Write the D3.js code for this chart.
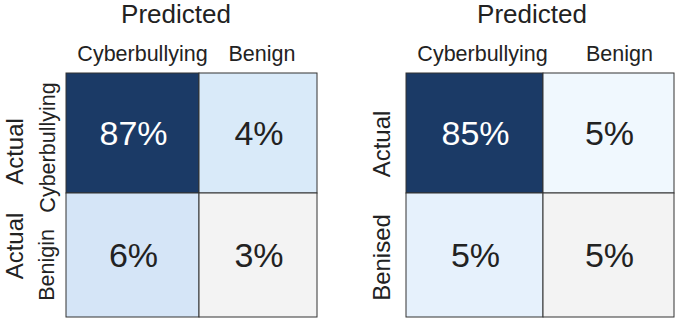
<!DOCTYPE html>
<html>
<head>
<meta charset="utf-8">
<script src="https://cdn.jsdelivr.net/npm/d3@7"></script>
<style>
  body { margin: 0; background: #fff; }
  svg { display: block; font-family: Arial, "Liberation Sans", sans-serif; }
</style>
</head>
<body>
<div id="chart"></div>
<script>
// values (percent)
const colLabels = ['Cyberbullying', 'Benign']
const leftValues = [[87, 4], [6, 3]]
const rightValues = [[85, 5], [5, 5]]
const leftRowLabels = ['Cyberbullying', 'Benigin']
const rightRowLabels = ['Actual', 'Benised']
const titleText = 'Predicted'

const W = 679, H = 322
const svg = d3.select('#chart').append('svg').attr('width', W).attr('height', H)

// cell fills, per panel
const fills = {
  left: ['#1b3a66', '#d9eaf9', '#d5e5f7', '#f3f3f3'],
  right: ['#1b3a66', '#f0f8fe', '#e6f1fc', '#f3f3f3']
}

function drawPanel(opt) {
  const g = svg.append('g')
  const x = d3.scaleLinear().domain([0, 1, 2]).range(opt.xs)
  const y = d3.scaleLinear().domain([0, 1, 2]).range(opt.ys)
  const cells = opt.values.flatMap((row, r) => row.map((v, c) => ({ r, c, v })))

  g.selectAll('rect.cell')
    .data(cells)
    .join('rect')
    .attr('class', 'cell')
    .attr('x', d => x(d.c))
    .attr('y', d => y(d.r))
    .attr('width', d => x(d.c + 1) - x(d.c))
    .attr('height', d => y(d.r + 1) - y(d.r))
    .attr('fill', (d, i) => opt.fills[i])
    .attr('stroke', '#333')
    .attr('stroke-width', 1)

  g.selectAll('text.val')
    .data(cells)
    .join('text')
    .attr('class', 'val')
    .attr('x', d => (x(d.c) + x(d.c + 1)) / 2 + 1)
    .attr('y', d => (y(d.r) + y(d.r + 1)) / 2)
    .attr('dy', '0.35em')
    .attr('text-anchor', 'middle')
    .attr('font-size', 34)
    .attr('fill', (d, i) => i === 0 ? '#fff' : '#222')
    .text(d => d.v + '%')

  g.append('text')
    .attr('x', opt.titleX)
    .attr('y', 23)
    .attr('text-anchor', 'middle')
    .attr('font-size', 26)
    .attr('fill', '#222')
    .text(titleText)

  g.selectAll('text.col')
    .data(colLabels)
    .join('text')
    .attr('class', 'col')
    .attr('x', (d, i) => (x(i) + x(i + 1)) / 2 + opt.colDx[i])
    .attr('y', 61)
    .attr('text-anchor', 'middle')
    .attr('font-size', 21.5)
    .attr('fill', '#222')
    .text(d => d)

  opt.rowTexts.forEach(t => {
    g.append('text')
      .attr('transform', `translate(${t.x},${t.y}) rotate(-90)`)
      .attr('text-anchor', 'middle')
      .attr('font-size', t.size)
      .attr('fill', '#222')
      .text(t.text)
  })
}

drawPanel({
  values: leftValues,
  fills: fills.left,
  xs: [66, 199, 317],
  ys: [73, 193, 317],
  titleX: 176,
  colDx: [10, 4],
  rowTexts: [
    { text: 'Actual', x: 23, y: 151.5, size: 24 },
    { text: leftRowLabels[0], x: 55, y: 147.5, size: 21.5 },
    { text: 'Actual', x: 23, y: 246, size: 24 },
    { text: leftRowLabels[1], x: 54, y: 265, size: 21.5 }
  ]
})

drawPanel({
  values: rightValues,
  fills: fills.right,
  xs: [406, 543, 674],
  ys: [73, 193, 317],
  titleX: 532,
  colDx: [8, 11],
  rowTexts: [
    { text: rightRowLabels[0], x: 390, y: 144, size: 24 },
    { text: rightRowLabels[1], x: 390, y: 257.5, size: 24 }
  ]
})
</script>
</body>
</html>
